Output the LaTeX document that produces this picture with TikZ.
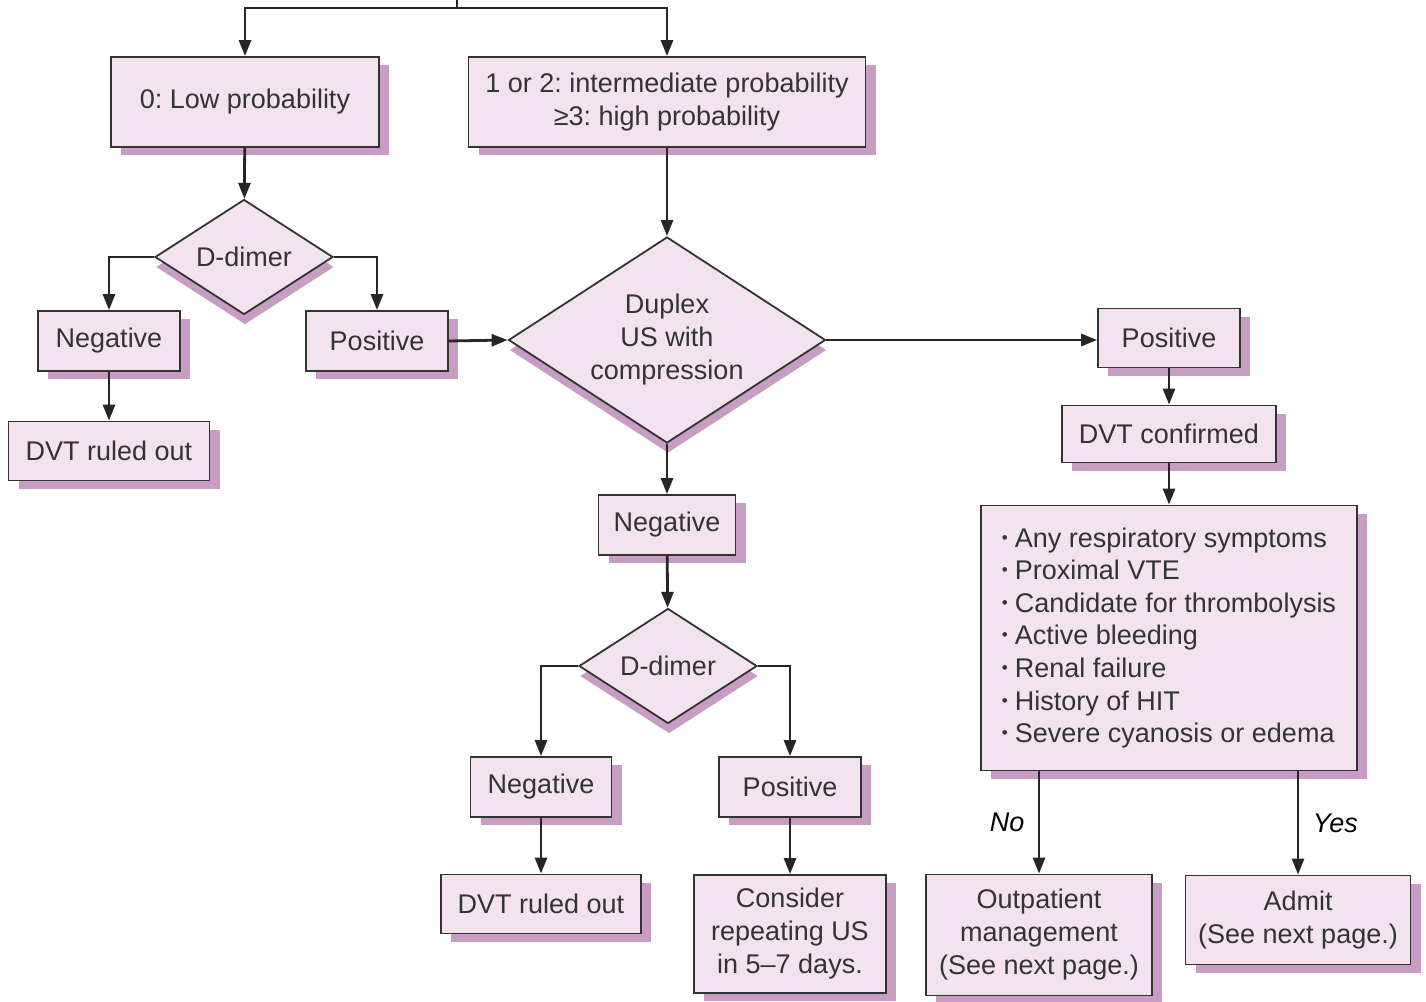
\documentclass[tikz,border=0pt]{standalone}
\usepackage{fontspec}
\setmainfont{Liberation Sans}
\usetikzlibrary{shapes.geometric,shadows,arrows.meta}
\definecolor{boxfill}{HTML}{F3E3EF}
\definecolor{boxshade}{HTML}{C89DC4}
\definecolor{inkgray}{HTML}{333333}
\newcommand{\bul}{\raisebox{4pt}{\fontsize{17}{17}\selectfont\textbullet}\hspace{7pt}}
\frenchspacing
\tikzset{
  boxbase/.style={draw=inkgray, line width=1.8pt, fill=boxfill, text=inkgray,
    align=center, inner sep=0pt},
  box/.style={boxbase,
    general shadow={fill=boxshade, shadow xshift=10pt, shadow yshift=-8pt}},
  decision/.style={boxbase, diamond, aspect=1.5,
    general shadow={fill=boxshade, shadow xshift=1pt, shadow yshift=-10pt}},
  link/.style={draw=black!85, line width=2.8pt, -{Triangle[length=16pt,width=12pt]}},
  plain/.style={draw=black!85, line width=2.8pt}
}
\begin{document}
\begin{tikzpicture}[x=1pt, y=-1pt, font=\fontsize{27}{33}\selectfont]
  \useasboundingbox (0,0) rectangle (1426,1001);
  % first split
  \node[box, minimum width=268pt, minimum height=90pt] (low) at (245,102) {0: Low probability};
  \node[box, minimum width=397pt, minimum height=90pt] (high) at (667,102)
       {1 or 2: intermediate probability\\≥3: high probability};
  % low branch
  \node[decision, minimum width=178pt, minimum height=115pt] (dd1) at (244,257) {D-dimer};
  \node[box, minimum width=142pt, minimum height=60pt] (neg1) at (109,341) {Negative};
  \node[box, minimum width=142pt, minimum height=60pt] (pos1) at (377,341) {Positive};
  \node[box, minimum width=201pt, minimum height=59pt] (rule1) at (109,451) {DVT ruled out};
  % ultrasound
  \node[decision, minimum width=317pt, minimum height=206pt] (duplex) at (667,340)
       {Duplex\\US with\\compression};
  \node[box, minimum width=142pt, minimum height=59pt] (pos2) at (1169,338) {Positive};
  \node[box, minimum width=214pt, minimum height=57pt] (conf) at (1169,434) {DVT confirmed};
  \node[box, align=left, minimum width=376pt, minimum height=265pt,
        font=\fontsize{27}{32.6}\selectfont] (list) at (1169,638)
       {\bul Any respiratory symptoms\\
        \bul Proximal VTE\\
        \bul Candidate for thrombolysis\\
        \bul Active bleeding\\
        \bul Renal failure\\
        \bul History of HIT\\
        \bul Severe cyanosis or edema};
  \node[box, minimum width=226pt, minimum height=121pt] (out) at (1039,935)
       {Outpatient\\management\\(See next page.)};
  \node[box, minimum width=225pt, minimum height=89pt] (admit) at (1298,920)
       {Admit\\(See next page.)};
  % negative ultrasound
  \node[box, minimum width=137pt, minimum height=60pt] (neg2) at (667,525) {Negative};
  \node[decision, minimum width=178pt, minimum height=115pt] (dd2) at (668,666) {D-dimer};
  \node[box, minimum width=141pt, minimum height=60pt] (neg3) at (541,787) {Negative};
  \node[box, minimum width=142pt, minimum height=60pt] (pos3) at (790,787) {Positive};
  \node[box, minimum width=200pt, minimum height=59pt] (rule2) at (541,904) {DVT ruled out};
  \node[box, minimum width=192pt, minimum height=118pt] (again) at (790,934)
       {Consider\\repeating US\\in 5--7 days.};

  \coordinate (entry) at (457,0);
  \coordinate (split) at (457,8);
  \draw[plain] (entry) -- (split);
  \draw[link] (split) -| (low);
  \draw[link] (split) -| (high);
  \draw[link] (low) -- (dd1);
  \draw[link] (dd1.west) -| (neg1);
  \draw[link] (dd1.east) -| (pos1);
  \draw[link] (neg1) -- (rule1);
  \draw[link] (pos1.east) -- (duplex.west);
  \draw[link] (high) -- (duplex);
  \draw[link] (duplex.east) -- (duplex.east -| pos2.west);
  \draw[link] (pos2) -- (conf);
  \draw[link] (conf) -- (list);
  \draw[link] (list.south -| out) -- node[left=10pt, font=\fontsize{27}{33}\itshape] {No} (out);
  \draw[link] (list.south -| admit) -- node[right=10pt, font=\fontsize{27}{33}\itshape] {Yes} (admit);
  \draw[link] (duplex) -- (neg2);
  \draw[link] (neg2) -- (dd2);
  \draw[link] (dd2.west) -| (neg3);
  \draw[link] (dd2.east) -| (pos3);
  \draw[link] (neg3) -- (rule2);
  \draw[link] (pos3) -- (again);
\end{tikzpicture}
\end{document}
